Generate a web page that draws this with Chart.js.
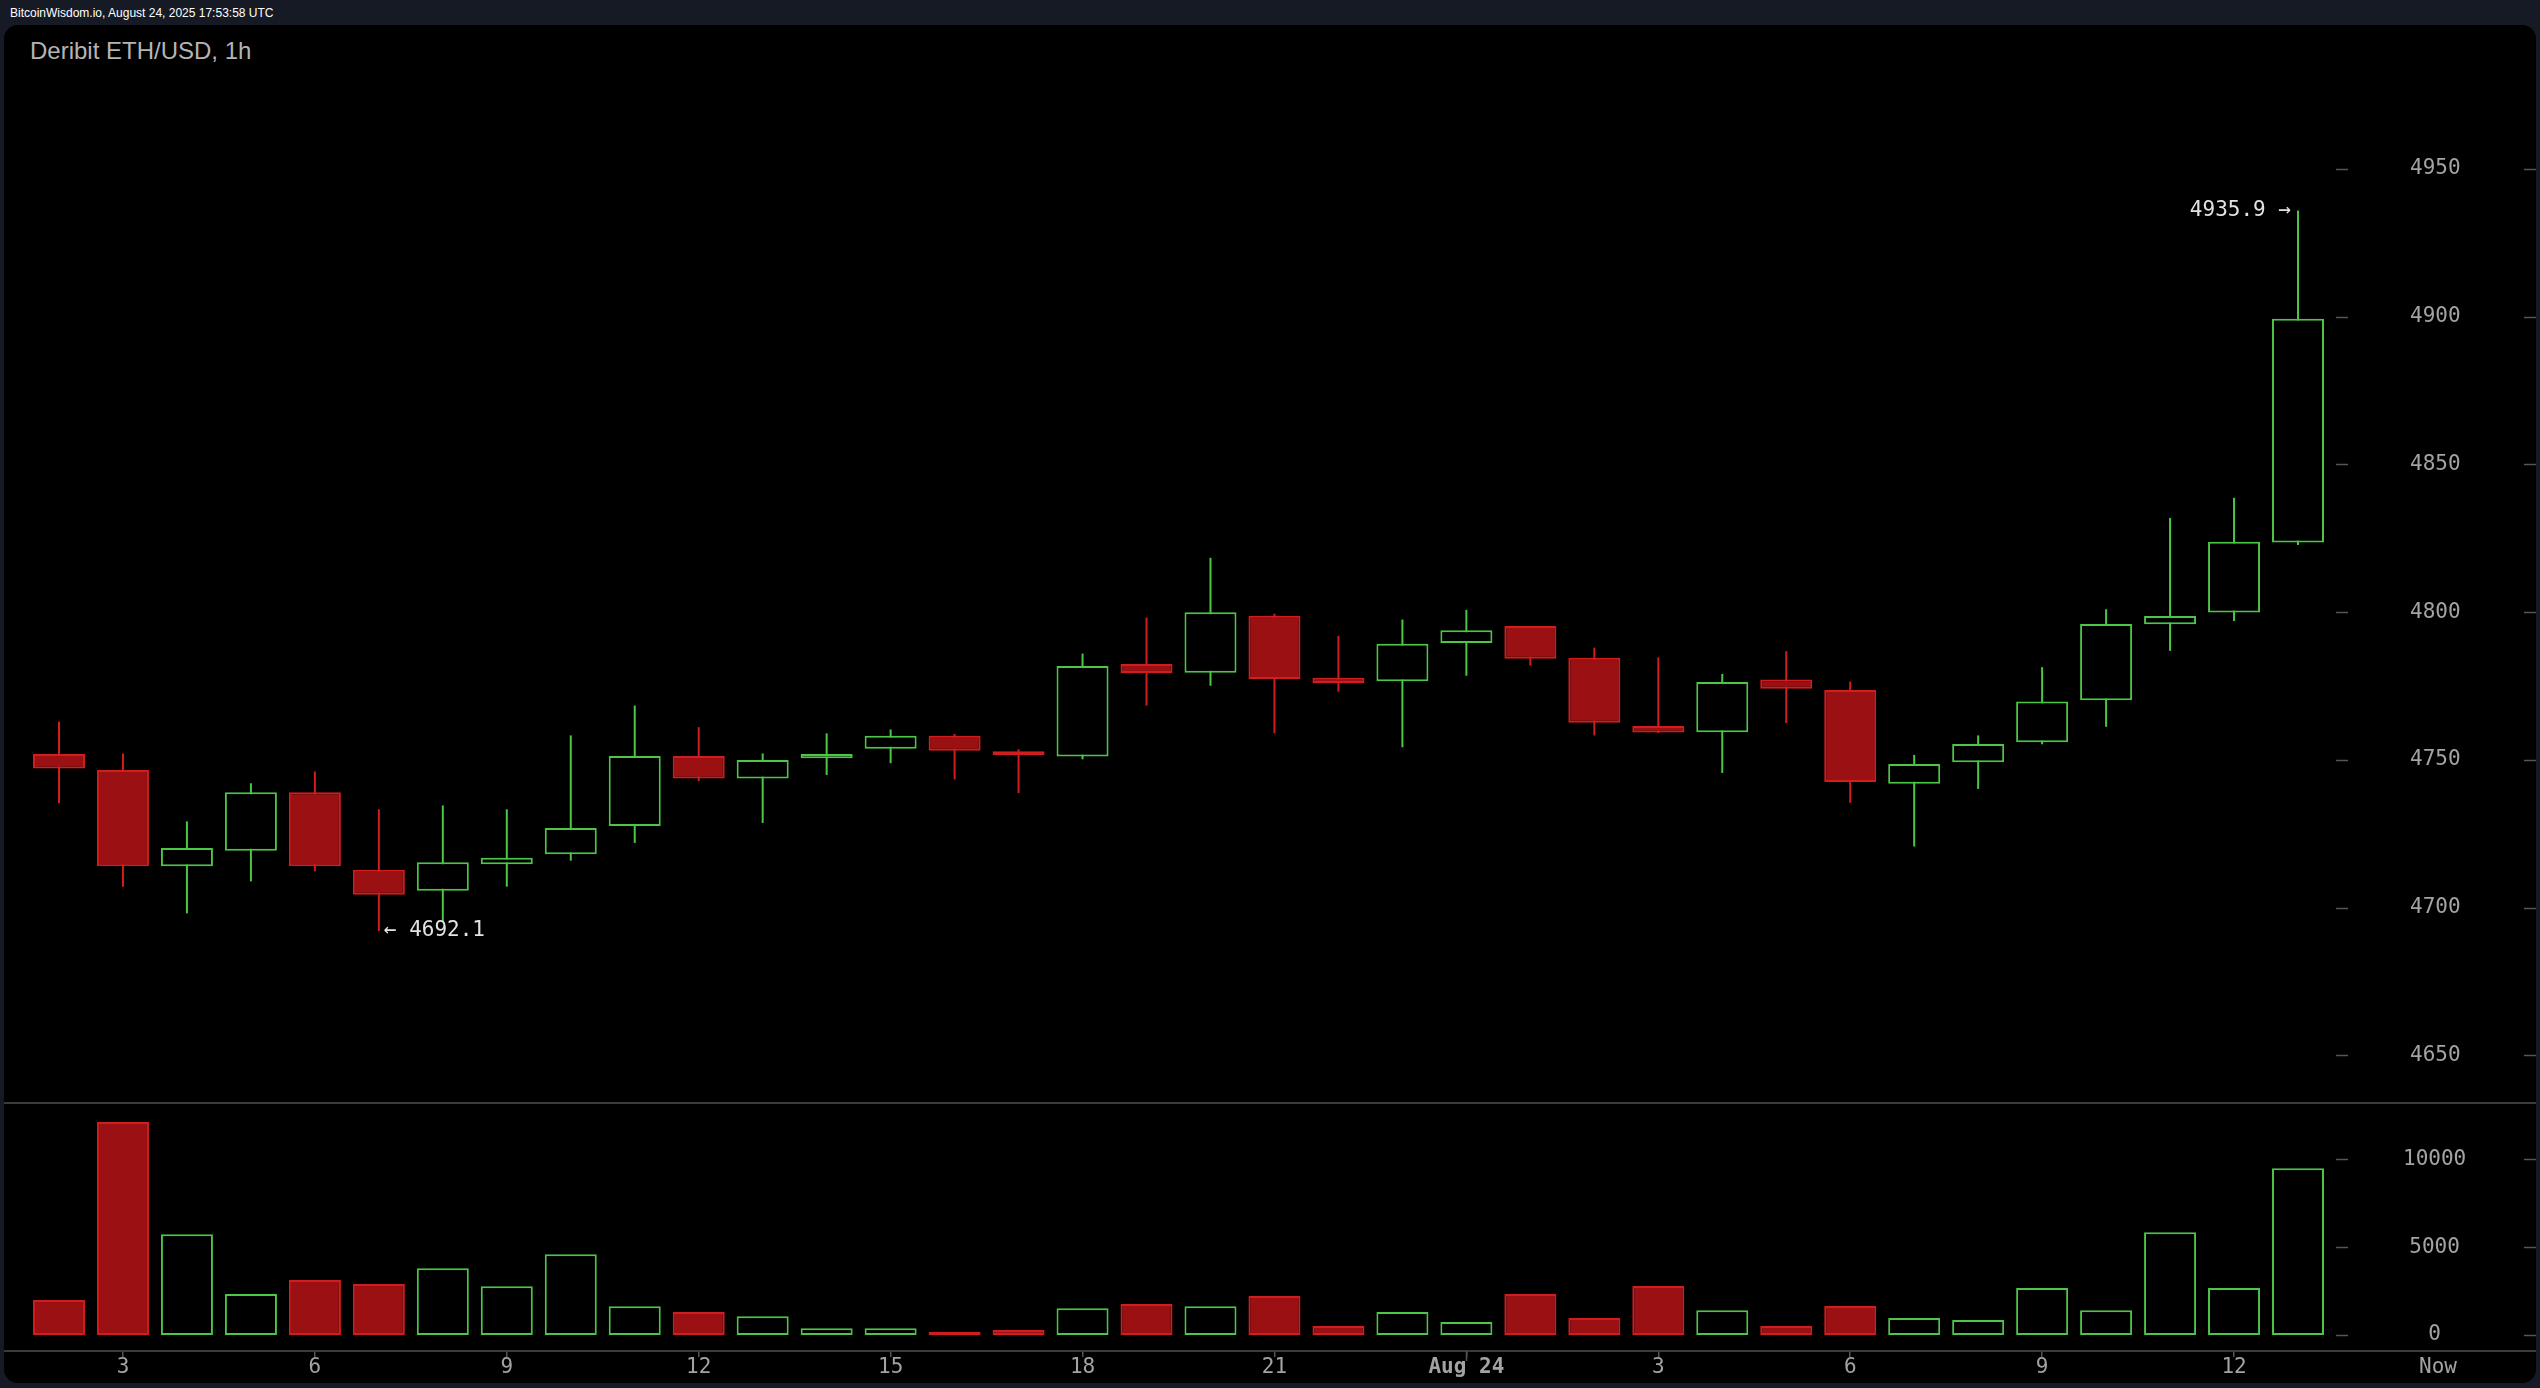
<!DOCTYPE html>
<html>
<head>
<meta charset="utf-8">
<script src="https://cdn.jsdelivr.net/npm/chart.js@4.4.1/dist/chart.umd.min.js"></script>
<style>
  html, body { margin: 0; padding: 0; background: #161a25; }
  body { width: 2540px; height: 1388px; position: relative; overflow: hidden; }
  #head { position: absolute; left: 10px; top: 6px; color: #fff; font: 12px "Liberation Sans", Arial, sans-serif; }
  #panel { position: absolute; left: 4px; top: 25px; width: 2532px; height: 1358px; background: #000; border-radius: 14px; }
  #title { position: absolute; left: 30px; top: 37px; color: #b4b4b4; font: 24px "Liberation Sans", Arial, sans-serif; }
  #chart { position: absolute; left: 0; top: 0; }
</style>
</head>
<body>
<div id="head">BitcoinWisdom.io, August 24, 2025 17:53:58 UTC</div>
<div id="panel"></div>
<div id="title">Deribit ETH/USD, 1h</div>
<canvas id="chart" width="2540" height="1388"></canvas>
<script>
// hourly candles, 02:00 Aug 23 -> 13:00 Aug 24
const hours = ["2", "3", "4", "5", "6", "7", "8", "9", "10", "11", "12", "13", "14", "15", "16", "17", "18", "19", "20", "21", "22", "23",
               "Aug 24", "1", "2", "3", "4", "5", "6", "7", "8", "9", "10", "11", "12", "13"];

const opens  = [4752.0, 4746.6, 4714.0, 4719.3, 4739.1, 4712.8, 4705.7, 4714.7, 4718.1, 4727.6, 4751.3, 4743.7,
                4750.6, 4753.8, 4758.2, 4752.9, 4751.2, 4782.5, 4779.5, 4798.8, 4777.8, 4776.6, 4789.6, 4795.3,
                4784.6, 4761.5, 4759.4, 4777.2, 4773.7, 4741.9, 4749.2, 4756.0, 4770.2, 4795.9, 4799.9, 4823.6];
const highs  = [4763.0, 4752.2, 4729.2, 4742.1, 4746.1, 4733.3, 4734.6, 4733.3, 4758.3, 4768.4, 4761.1, 4752.2,
                4759.0, 4760.3, 4758.8, 4753.6, 4786.0, 4798.2, 4818.4, 4799.5, 4792.0, 4797.5, 4800.8, 4795.3,
                4788.0, 4784.7, 4779.1, 4786.8, 4776.5, 4751.7, 4758.3, 4781.4, 4801.0, 4831.9, 4838.7, 4935.9];
const lows   = [4735.3, 4707.1, 4698.1, 4708.9, 4712.3, 4692.1, 4695.1, 4707.1, 4715.9, 4721.9, 4742.8, 4728.7,
                4744.9, 4748.9, 4743.4, 4738.8, 4750.2, 4768.4, 4775.1, 4759.0, 4773.1, 4754.3, 4778.5, 4781.9,
                4758.3, 4759.1, 4745.6, 4762.5, 4735.5, 4720.7, 4740.2, 4755.3, 4761.2, 4786.9, 4797.0, 4822.7];
const closes = [4747.1, 4714.0, 4720.2, 4739.1, 4714.0, 4704.4, 4715.4, 4716.9, 4727.0, 4751.3, 4743.7, 4750.0,
                4752.0, 4758.2, 4753.1, 4751.7, 4781.8, 4779.4, 4800.0, 4777.4, 4776.0, 4789.3, 4793.9, 4784.2,
                4762.6, 4759.3, 4776.4, 4774.1, 4742.5, 4748.6, 4755.4, 4769.8, 4796.0, 4798.7, 4823.8, 4899.3];
const volumes = [1993, 12128, 5732, 2335, 3132, 2904, 3796, 2771, 4593, 1632, 1310, 1063,
                 380, 380, 190, 285, 1518, 1765, 1632, 2221, 512, 1310, 740, 2335,
                 968, 2790, 1405, 512, 1651, 968, 854, 2676, 1405, 5846, 2676, 9490];

const priceTicks = [4650, 4700, 4750, 4800, 4850, 4900, 4950];
const volumeTicks = [0, 5000, 10000];

const RED_FILL = "#9b1013";
const RED_LINE = "#d11d1d";
const GREEN = "#4cc745";
const TEXT = "#a3a3a3";
const MONO = "'DejaVu Sans Mono', monospace";

const up = opens.map((o, i) => closes[i] >= o);
const lineColors = up.map((u) => (u ? GREEN : RED_LINE));
const fillColors = up.map((u) => (u ? "#000" : RED_FILL));
const showLabel = (h) => h === "Aug 24" || Number(h) % 3 === 0;

// ticks on both sides of the value axes, separator lines and the high/low notes
const overlay = {
    id: "overlay",
    afterDraw(chart) {
        const { ctx, scales } = chart;
        const x = scales.x, y = scales.y, yv = scales.yv;
        const axLeft = y.left, axRight = y.right;
        ctx.save();

        ctx.strokeStyle = "#3b3b3b";
        ctx.lineWidth = 2;
        ctx.beginPath();
        ctx.moveTo(4, yv.top); ctx.lineTo(chart.width - 4, yv.top);
        ctx.moveTo(4, yv.bottom); ctx.lineTo(chart.width - 4, yv.bottom);
        ctx.stroke();

        ctx.strokeStyle = "#555";
        ctx.lineWidth = 1.5;
        ctx.beginPath();
        [[y, priceTicks], [yv, volumeTicks]].forEach(([s, list]) => {
            list.forEach((v) => {
                const py = Math.round(s.getPixelForValue(v)) + 0.5;
                ctx.moveTo(axLeft + 6, py); ctx.lineTo(axLeft + 18, py);
                ctx.moveTo(axRight - 12, py); ctx.lineTo(axRight, py);
            });
        });
        // day change gets a longer tick
        const dx = Math.round(x.getPixelForValue(hours.indexOf("Aug 24"))) + 0.5;
        ctx.moveTo(dx, yv.bottom); ctx.lineTo(dx, yv.bottom + 10);
        ctx.stroke();

        ctx.font = "21px " + MONO;
        ctx.fillStyle = TEXT;
        ctx.textAlign = "center";
        ctx.textBaseline = "middle";
        ctx.fillText("Now", (axLeft + axRight) / 2 + 5, yv.bottom + 17);

        // highest high / lowest low
        const hi = highs.indexOf(Math.max(...highs));
        const lo = lows.indexOf(Math.min(...lows));
        ctx.fillStyle = "#e2e2e2";
        ctx.textAlign = "right";
        ctx.fillText(highs[hi].toFixed(1) + " \u2192", x.getPixelForValue(hi) - 7, y.getPixelForValue(highs[hi]));
        ctx.textAlign = "left";
        ctx.fillText("\u2190 " + lows[lo].toFixed(1), x.getPixelForValue(lo) + 5, y.getPixelForValue(lows[lo]));
        ctx.restore();
    },
};

const yAxis = (min, max, list, weight, pad) => ({
    type: "linear",
    position: "right",
    stack: "main",
    stackWeight: weight,
    min: min,
    max: max,
    border: { display: false },
    grid: { display: false, drawTicks: false },
    ticks: {
        crossAlign: "center",
        padding: pad,
        color: TEXT,
        font: { family: MONO, size: 21 },
        callback: (v) => String(v),
    },
    afterBuildTicks: (s) => { s.ticks = list.map((v) => ({ value: v })); },
    afterFit: (s) => {
        s.width = 206;
        s.paddingTop = 0;
        s.paddingBottom = 0;
    },
});

new Chart(document.getElementById("chart"), {
    type: "bar",
    data: {
        labels: hours,
        datasets: [
            {
                label: "body",
                yAxisID: "y",
                data: opens.map((o, i) => [o, closes[i]]),
                backgroundColor: fillColors,
                borderColor: lineColors,
                borderWidth: 2,
                borderSkipped: false,
                barThickness: 52,
                grouped: false,
                inflateAmount: 0,
            },
            {
                label: "wick",
                yAxisID: "y",
                data: lows.map((l, i) => [l, highs[i]]),
                backgroundColor: lineColors,
                borderWidth: 0,
                barThickness: 2,
                grouped: false,
                inflateAmount: 0,
            },
            {
                label: "volume",
                yAxisID: "yv",
                data: volumes,
                backgroundColor: fillColors,
                borderColor: lineColors,
                borderWidth: 2,
                borderSkipped: false,
                barThickness: 52,
                grouped: false,
                inflateAmount: 0,
            },
        ],
    },
    options: {
        responsive: false,
        animation: false,
        devicePixelRatio: 1,
        layout: { padding: { left: 27, right: 4, top: 80, bottom: 1 } },
        plugins: { legend: { display: false }, tooltip: { enabled: false } },
        scales: {
            x: {
                type: "category",
                offset: true,
                border: { display: false },
                grid: {
                    offset: false,
                    drawOnChartArea: false,
                    tickLength: 6,
                    lineWidth: 1.5,
                    tickColor: (c) => (showLabel(hours[c.index]) ? "#555" : "rgba(0,0,0,0)"),
                },
                ticks: {
                    autoSkip: false,
                    maxRotation: 0,
                    padding: -2,
                    color: TEXT,
                    font: (c) => ({ family: MONO, size: 21, weight: hours[c.index] === "Aug 24" ? "bold" : "normal" }),
                    callback: (v, i) => (showLabel(hours[i]) ? hours[i] : ""),
                },
                afterFit: (s) => { s.height = 36; },
            },
            y: yAxis(4633.9, 4980.1, priceTicks, 1023, 80),
            yv: yAxis(-911, 13204, volumeTicks, 248, 73),
        },
    },
    plugins: [overlay],
});
</script>
</body>
</html>
